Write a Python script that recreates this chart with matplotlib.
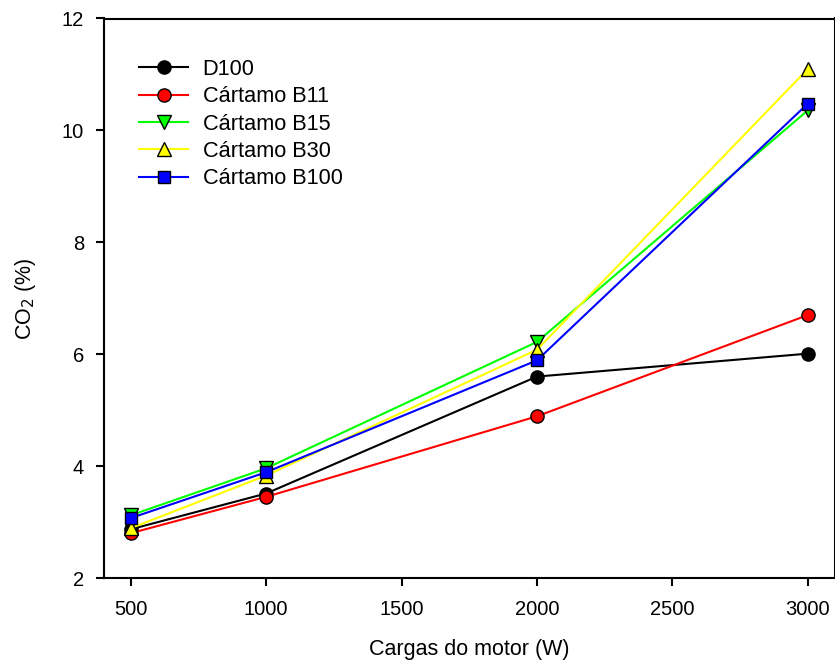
import matplotlib
matplotlib.use('Agg')
import matplotlib.pyplot as plt

plt.rcParams['font.family'] = ['Liberation Sans', 'DejaVu Sans']
plt.rcParams['font.size'] = 14

# engine loads (W)
cargas = [500, 1000, 2000, 3000]

# CO2 (%)
d100 = [2.87, 3.51, 5.60, 6.01]
b11 = [2.80, 3.45, 4.89, 6.70]
b15 = [3.12, 3.96, 6.22, 10.36]
b30 = [2.89, 3.83, 6.08, 11.10]
b100 = [3.07, 3.89, 5.89, 10.48]

series = [
	('D100', d100, 'black', 'o'),
	('Cártamo B11', b11, 'red', 'o'),
	('Cártamo B15', b15, '#00ff00', 'v'),
	('Cártamo B30', b30, 'yellow', '^'),
	('Cártamo B100', b100, 'blue', 's'),
]

fig = plt.figure(figsize=(8.35, 6.61), dpi=100)
ax = fig.add_axes([103.5/835, 1-578/661, (835-103.5)/835, (578-18.5)/661])

for name, vals, col, mk in series:
	ms = 8.5 if mk == 's' else 9.5
	ax.plot(cargas, vals, color=col, marker=mk, markersize=ms, linewidth=1.5,
			markerfacecolor=col, markeredgecolor='black', markeredgewidth=1.0,
			label=name)

ax.set_xlim(400, 3100)
ax.set_ylim(2, 12)
ax.set_xticks([500, 1000, 1500, 2000, 2500, 3000])
ax.set_yticks([2, 4, 6, 8, 10, 12])
ax.tick_params(direction='out', length=6, width=1.5, labelsize=14.5)
ax.tick_params(axis='x', pad=10)
ax.tick_params(axis='y', pad=8)
for s in ax.spines.values():
	s.set_linewidth(1.5)

ax.set_xlabel('Cargas do motor (W)', fontsize=15.5, labelpad=14)
ax.set_ylabel('CO$_2$ (%)', fontsize=15.5, labelpad=17)

leg = ax.legend(loc='upper left', bbox_to_anchor=(0.037, 0.943), frameon=False,
				fontsize=15.7, handlelength=2.25, labelspacing=0.29,
				handletextpad=0.65, borderaxespad=0.0)

fig.savefig('out.png', dpi=100)
